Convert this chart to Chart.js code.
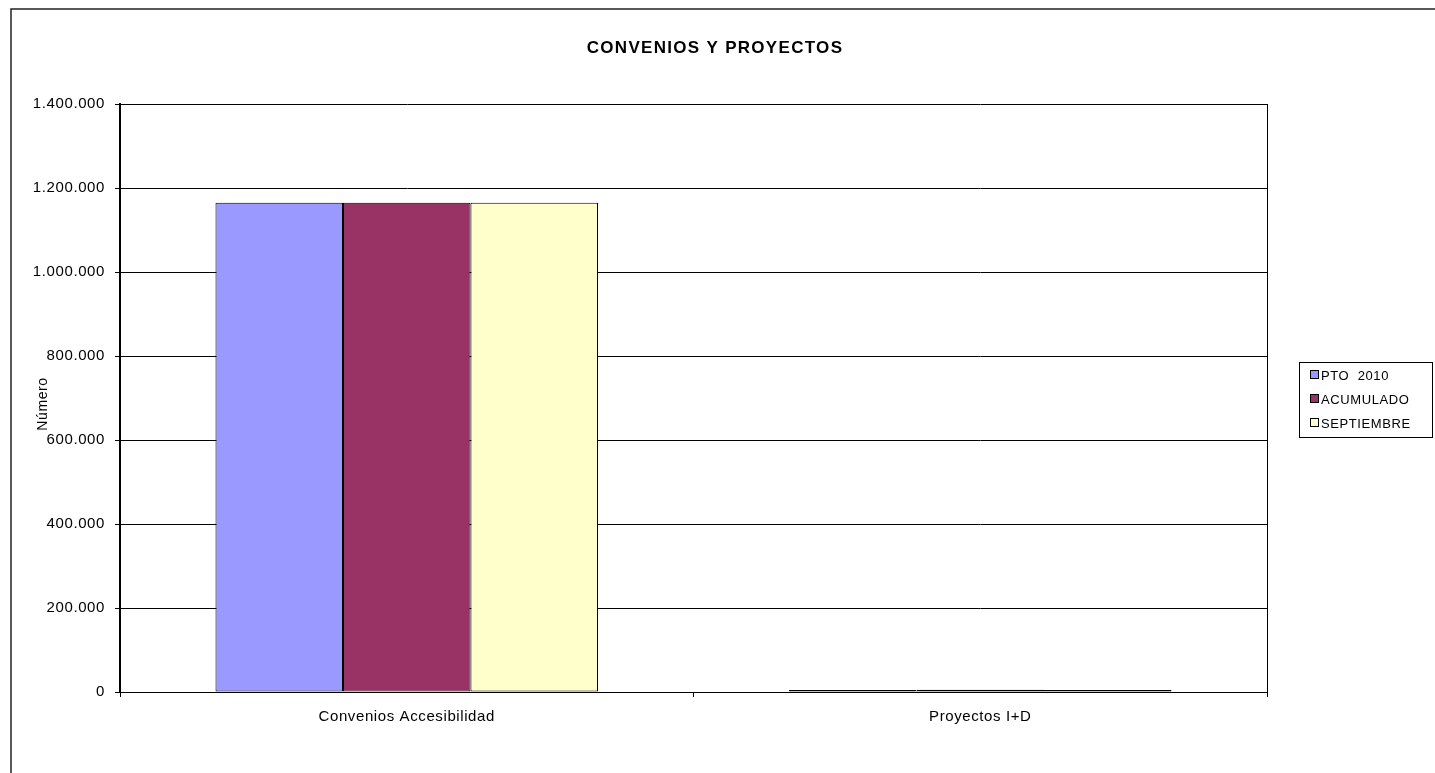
<!DOCTYPE html>
<html>
<head>
<meta charset="utf-8">
<script src="https://cdn.jsdelivr.net/npm/chart.js@4.4.1/dist/chart.umd.min.js"></script>
<style>
  html, body { margin: 0; padding: 0; background: #fff; }
  #wrap { width: 1435px; height: 773px; position: relative; }
</style>
</head>
<body>
<div id="wrap"><canvas id="c" width="1435" height="773"></canvas></div>
<script>
const chartTitle = 'CONVENIOS Y PROYECTOS';
const yAxisTitle = 'Número';
const categories = ['Convenios Accesibilidad', 'Proyectos I+D'];
const seriesNames = ['PTO  2010', 'ACUMULADO', 'SEPTIEMBRE'];
const pto2010 = [1165000, 5000];
const acumulado = [1165000, 5500];
const septiembre = [1165000, 5000];
const seriesColors = ['#9999FF', '#993366', '#FFFFCC'];
const yTicks = [0, 200000, 400000, 600000, 800000, 1000000, 1200000, 1400000];

const FONT = '"Liberation Sans", Arial, sans-serif';

function fmt(v) {
  return String(v).replace(/\B(?=(\d{3})+(?!\d))/g, '.');
}

const decor = {
  id: 'decor',
  beforeDraw(chart) {
    const ctx = chart.ctx;
    ctx.save();
    ctx.fillStyle = '#fff';
    ctx.fillRect(0, 0, chart.width, chart.height);
    ctx.strokeStyle = '#222';
    ctx.lineWidth = 1.5;
    ctx.beginPath();
    ctx.moveTo(11, chart.height + 5);
    ctx.lineTo(11, 9);
    ctx.lineTo(chart.width + 5, 9);
    ctx.stroke();
    ctx.restore();
    if ('letterSpacing' in ctx) ctx.letterSpacing = '0.6px';
  },
  afterDraw(chart) {
    const ctx = chart.ctx;
    const a = chart.chartArea;
    ctx.save();
    // plot right border
    ctx.strokeStyle = '#000';
    ctx.lineWidth = 1;
    ctx.beginPath();
    ctx.moveTo(Math.round(a.right) + 0.5, a.top);
    ctx.lineTo(Math.round(a.right) + 0.5, a.bottom);
    ctx.stroke();
    // title
    ctx.fillStyle = '#000';
    if ('letterSpacing' in ctx) ctx.letterSpacing = '1.3px';
    ctx.font = 'bold 17px ' + FONT;
    ctx.textAlign = 'center';
    ctx.textBaseline = 'middle';
    ctx.fillText(chartTitle, 715, 48);
    if ('letterSpacing' in ctx) ctx.letterSpacing = '0.6px';
    // y axis title
    ctx.save();
    ctx.translate(43, 404);
    ctx.rotate(-Math.PI / 2);
    ctx.font = '14px ' + FONT;
    ctx.fillText(yAxisTitle, 0, 0);
    ctx.restore();
    // legend
    const lx = 1299, ly = 362, lw = 133, lh = 75;
    ctx.lineWidth = 1;
    ctx.strokeStyle = '#000';
    ctx.strokeRect(lx + 0.5, ly + 0.5, lw, lh);
    ctx.font = '13px ' + FONT;
    ctx.textAlign = 'left';
    chart.data.datasets.forEach((ds, i) => {
      const cy = 375 + i * 24;
      ctx.fillStyle = ds.backgroundColor;
      ctx.fillRect(1310, cy - 4, 8, 8);
      ctx.strokeRect(1310.5, cy - 4.5, 8, 8);
      ctx.fillStyle = '#000';
      ctx.fillText(ds.label, 1321, cy + 1);
    });
    ctx.restore();
  }
};

new Chart(document.getElementById('c'), {
  type: 'bar',
  data: {
    labels: categories,
    datasets: [
      { label: seriesNames[0], data: pto2010, backgroundColor: seriesColors[0] },
      { label: seriesNames[1], data: acumulado, backgroundColor: seriesColors[1] },
      { label: seriesNames[2], data: septiembre, backgroundColor: seriesColors[2] }
    ].map(d => Object.assign(d, { borderColor: '#000', borderWidth: 1, borderSkipped: false }))
  },
  options: {
    responsive: false,
    animation: false,
    devicePixelRatio: 1,
    layout: { padding: { top: 104, right: 168, bottom: 0, left: 0 } },
    datasets: { bar: { categoryPercentage: 0.667, barPercentage: 1 } },
    plugins: { legend: { display: false }, title: { display: false }, tooltip: { enabled: false } },
    scales: {
      x: {
        grid: { display: true, offset: true, drawOnChartArea: false, drawTicks: true, tickLength: 5, color: '#000' },
        border: { display: true, color: '#000', width: 1 },
        ticks: { color: '#000', font: { family: FONT, size: 15 }, padding: 11, maxRotation: 0 },
        afterFit(s) { s.height = 81; }
      },
      y: {
        min: 0, max: 1400000,
        afterBuildTicks(s) { s.ticks = yTicks.map(v => ({ value: v })); },
        grid: { color: '#000', lineWidth: 1, tickLength: 5, drawTicks: true },
        border: { display: true, color: '#000', width: 2 },
        ticks: { color: '#000', font: { family: FONT, size: 15 }, padding: 10, callback: v => fmt(v) },
        afterFit(s) { s.width = 120; }
      }
    }
  },
  plugins: [decor]
});
</script>
</body>
</html>
